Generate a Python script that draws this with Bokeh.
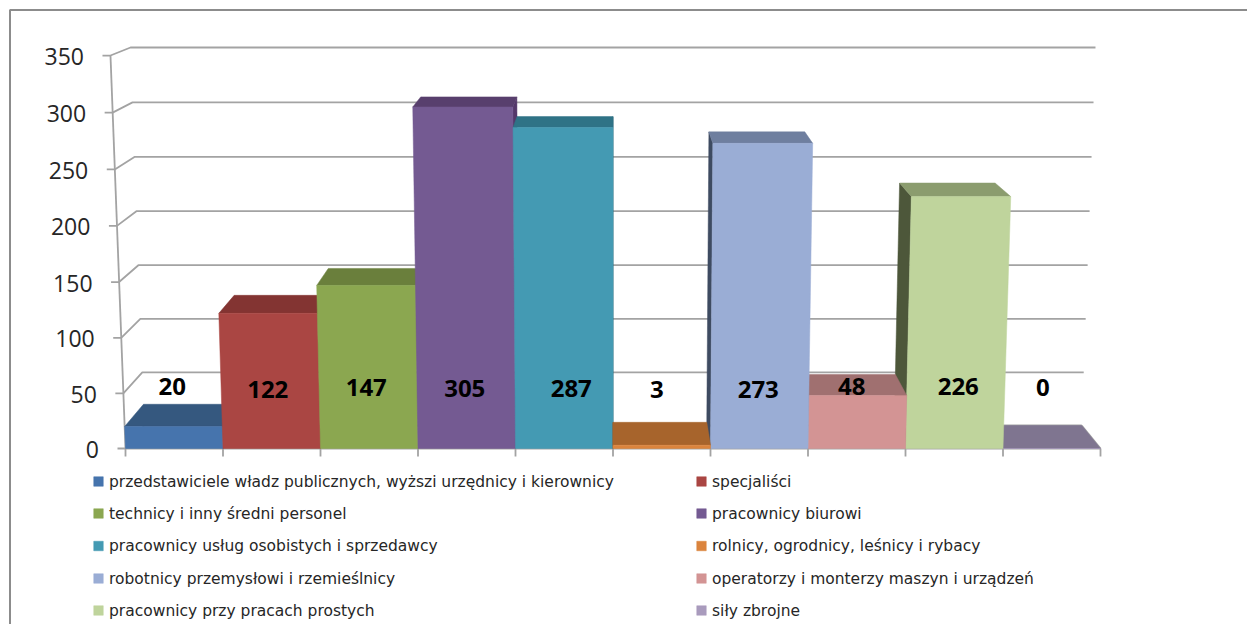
from bokeh.plotting import figure
from bokeh.models import Range1d
from bokeh.core.properties import value
from bokeh.embed import file_html
from bokeh.resources import INLINE

categories = [
    "przedstawiciele władz publicznych, wyższi urzędnicy i kierownicy",
    "specjaliści",
    "technicy i inny średni personel",
    "pracownicy biurowi",
    "pracownicy usług osobistych i sprzedawcy",
    "rolnicy, ogrodnicy, leśnicy i rybacy",
    "robotnicy przemysłowi i rzemieślnicy",
    "operatorzy i monterzy maszyn i urządzeń",
    "pracownicy przy pracach prostych",
    "siły zbrojne",
]
values = [20, 122, 147, 305, 287, 3, 273, 48, 226, 0]
y_ticks = [0, 50, 100, 150, 200, 250, 300, 350]
front_colors = ["#4674AD", "#AA4643", "#8BA750", "#745A92", "#449AB3", "#DB843D", "#9AADD5", "#D39494", "#BFD49C", "#A99BBD"]
top_colors = ["#35587F", "#833432", "#6A7F3C", "#583F6D", "#2F7386", "#A7642C", "#6F7F9F", "#A07070", "#8B9C6E", "#7F7590"]
side_colors = ["#2C4868", "#6B2A29", "#566832", "#54386A", "#265E6E", "#884F23", "#3E4B61", "#7A5454", "#4D573A", "#5F5870"]
legend_colors = ["#4674AD", "#AA4643", "#8BA750", "#745A92", "#449AB3", "#DB843D", "#9AADD5", "#D39494", "#BFD49C", "#A99BBD"]


def project(t, v, d):
    """Map bar position t (0-1), value v and depth d (0 front, 1 back) to page position."""
    half = 975.0 if d == 0 else 937.5
    spread = 0.0308 if d == 0 else 0.0293
    x = 612.5 + (t - 0.5) * half * (1 + spread * v / 350.0)
    if d == 0:
        y = 448 - 1.10 * v - 6.5e-5 * v * v
    else:
        y = 425 - 1.06 * v - 5.7e-5 * v * v
    return x, y


W, H = 1247, 624
p = figure(width=W, height=H, output_backend="svg", toolbar_location=None,
           x_range=Range1d(0, W), y_range=Range1d(H, 0),
           min_border=0, x_axis_type=None, y_axis_type=None)
p.grid.visible = False
p.outline_line_color = None
p.background_fill_color = "white"

# outer frame
p.multi_line([[9.5, 9.5, W]], [[H, 9.5, 9.5]], line_color="#8C8C8C", line_width=2)

# walls: gridlines, left wall lines, axis, ticks
grid_color = "#A3A3A3"
gx, gy = [], []
for v in y_ticks:
    a = project(0, v, 0)
    b = project(0, v, 1)
    c = project(1, v, 1)
    gx.append([a[0] - 8, a[0], b[0], c[0]])
    gy.append([a[1], a[1], b[1], c[1]])
right_floor = (project(1, 0, 1), project(1, 0, 0))
gx.append([right_floor[0][0], right_floor[1][0]])
gy.append([right_floor[0][1], right_floor[1][1]])
axis_top, axis_bottom = project(0, max(y_ticks), 0), project(0, 0, 0)
gx.append([axis_top[0], axis_bottom[0]])
gy.append([axis_top[1], axis_bottom[1]])
n = len(values)
for i in range(n + 1):
    q = project(i / n, 0, 0)
    gx.append([q[0], q[0]])
    gy.append([q[1], q[1] + 8])
end = project(1, 0, 0)
gx.append([axis_bottom[0], end[0]])
gy.append([axis_bottom[1], end[1]])
p.multi_line(gx, gy, line_color=grid_color, line_width=1.8)

# bars, painted from the outside towards the centre
order = [0, 1, 2, 3, 4, 9, 8, 7, 6, 5]
xs, ys, fills = [], [], []
for i in order:
    t0, t1 = i / n, (i + 1) / n
    v = values[i]
    inner = t1 if i < 5 else t0
    a, b = project(inner, v, 0), project(inner, v, 1)
    c, e = project(inner, 0, 1), project(inner, 0, 0)
    xs.append([a[0], b[0], c[0], e[0]])
    ys.append([a[1], b[1], c[1], e[1]])
    fills.append(side_colors[i])
    a, b = project(t0, v, 0), project(t1, v, 0)
    c, e = project(t1, v, 1), project(t0, v, 1)
    xs.append([a[0], b[0], c[0], e[0]])
    ys.append([a[1], b[1], c[1], e[1]])
    fills.append(top_colors[i])
    a, b = project(t0, v, 0), project(t1, v, 0)
    c, e = project(t1, 0, 0), project(t0, 0, 0)
    xs.append([a[0], b[0], c[0], e[0]])
    ys.append([a[1], b[1], c[1], e[1]])
    fills.append(front_colors[i])
p.patches(xs, ys, fill_color=fills, line_color=fills, line_width=0.5)

# value labels
label_dx = [-2, -4, -3, -2, 7, -5, -1, -5, 4, -9]
label_dy = [-1.5, 1.5, -0.5, 0.5, 0.5, 1.5, 1.5, -1.5, -1.5, -0.5]
lx = [project((i + 0.5) / n, 0, 0)[0] + label_dx[i] for i in range(n)]
ly = [387 + label_dy[i] for i in range(n)]
p.text(lx, ly, text=[str(v) for v in values], text_font=value("Open Sans"),
       text_font_style="bold", text_font_size="24px", text_color="#000000",
       text_align="center", text_baseline="middle")

# y tick labels
tx = [project(0, v, 0)[0] - 26.5 for v in y_ticks]
ty = [project(0, v, 0)[1] + 1 for v in y_ticks]
p.text(tx, ty, text=[str(v) for v in y_ticks], text_font=value("Open Sans"),
       text_font_size="23px", text_color="#262626",
       text_align="right", text_baseline="middle")

# legend
rows = [481, 513, 545.5, 578, 610]
col_sq = [98, 701]
col_tx = [108.5, 711.5]
sx = [col_sq[i % 2] for i in range(n)]
sy = [rows[i // 2] for i in range(n)]
p.scatter(sx, sy, marker="square", size=9.5, fill_color=legend_colors, line_color=legend_colors, line_width=0.5)
p.text([col_tx[i % 2] for i in range(n)], sy, text=categories, text_font=value("DejaVu Sans"),
       text_font_size="15.5px", text_color="#262626", text_align="left", text_baseline="middle")

open("out.html", "w").write(file_html(p, INLINE))
